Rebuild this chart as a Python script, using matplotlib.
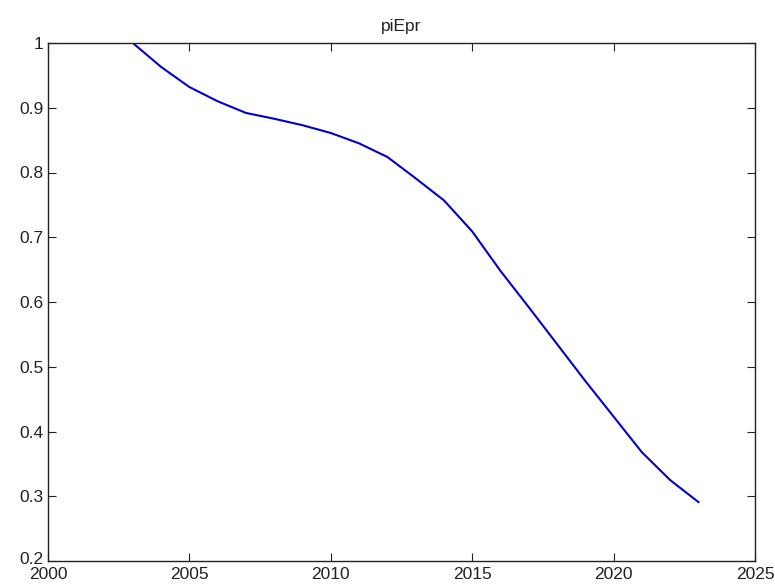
import matplotlib
matplotlib.use("Agg")
import matplotlib.pyplot as plt
import matplotlib.transforms as mtransforms

years = [2003, 2004, 2005, 2006, 2007, 2008, 2009, 2010, 2011, 2012, 2013,
         2014, 2015, 2016, 2017, 2018, 2019, 2020, 2021, 2022, 2023]
values = [1.000, 0.963, 0.932, 0.910, 0.892, 0.883, 0.873, 0.861, 0.845, 0.824,
          0.791, 0.757, 0.709, 0.648, 0.592, 0.535, 0.478, 0.423, 0.368, 0.325, 0.291]
xticks = [2000, 2005, 2010, 2015, 2020, 2025]
yticks = [0.2, 0.3, 0.4, 0.5, 0.6, 0.7, 0.8, 0.9, 1.0]
ytick_labels = ["0.2", "0.3", "0.4", "0.5", "0.6", "0.7", "0.8", "0.9", "1"]
title = "piEpr"

plt.rcParams['font.family'] = ['Liberation Sans', 'DejaVu Sans']
fig = plt.figure(figsize=(7.75, 5.84), dpi=100)
ax = fig.add_axes([48/775, 23/584, 707/775, 518/584])
ax.plot(years, values, color='#0000cc', linewidth=1.5)
ax.set_xlim(2000, 2025)
ax.set_ylim(0.2, 1.0)
ax.set_xticks(xticks)
ax.set_xticklabels([str(x) for x in xticks])
ax.set_yticks(yticks)
ax.set_yticklabels(ytick_labels)
ax.tick_params(direction='in', length=6, width=0.8, top=True, right=True,
               labelsize=12.5, colors='#222222', pad=3)
ax.tick_params(axis='x', pad=4)
for s in ax.spines.values():
    s.set_linewidth(1.0)
    s.set_color('#222222')
ax.set_title(title, fontsize=12.5, color='#222222', pad=9)

# nudge lowest y label up a little so it clears the "2000" label
lbl = ax.get_yticklabels()[0]
lbl.set_transform(lbl.get_transform() + mtransforms.ScaledTranslation(0, 3/100, fig.dpi_scale_trans))

fig.savefig("out.png", dpi=100)
